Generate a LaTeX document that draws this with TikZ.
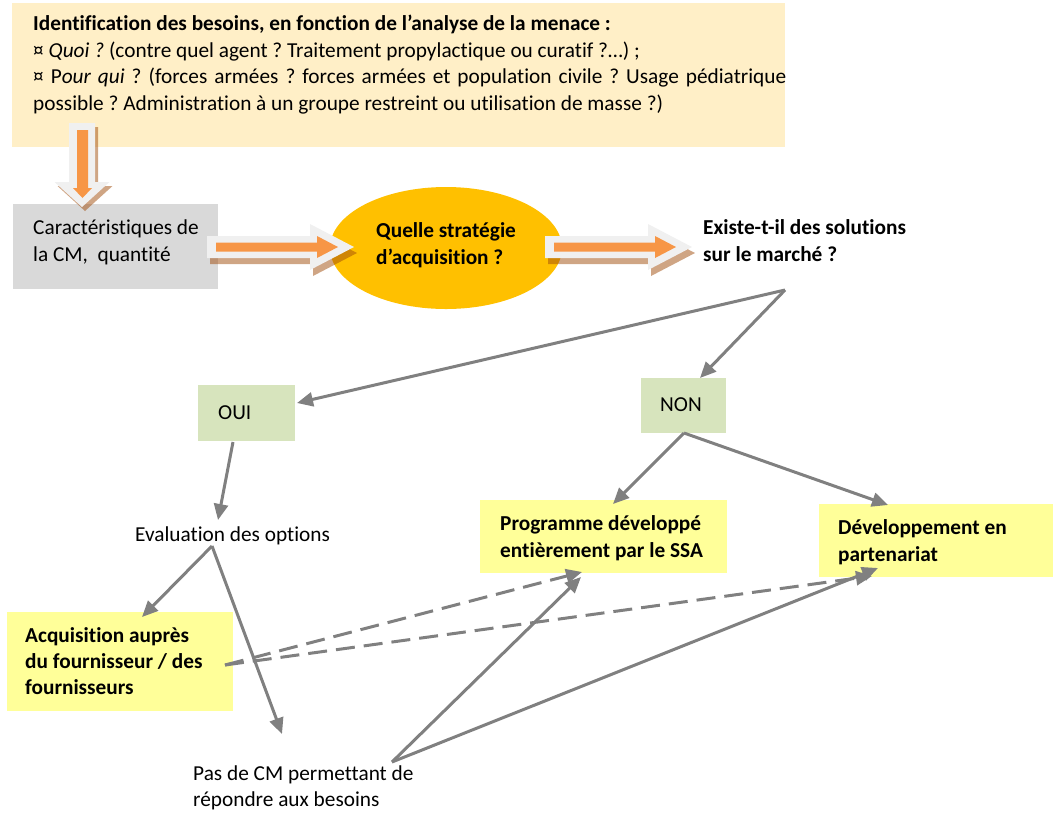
\documentclass[tikz,border=0pt]{standalone}
\usepackage{fontspec}
\setmainfont{Carlito}[Ligatures=NoCommon]
\usetikzlibrary{arrows.meta,calc,shapes.geometric}
\frenchspacing

\definecolor{needfill}{HTML}{FFEFC7}
\definecolor{cmfill}{HTML}{D9D9D9}
\definecolor{stratfill}{HTML}{FFC000}
\definecolor{answerfill}{HTML}{D7E4BD}
\definecolor{optionfill}{HTML}{FFFF99}
\definecolor{linkgray}{HTML}{808080}
\definecolor{fatorange}{HTML}{F79646}
\definecolor{fatrim}{HTML}{F0F0F0}
\definecolor{fatshadow}{HTML}{A04B0A}

% outline of a block arrow pointing along +x, tail at the origin
% #1 length, #2 shaft width, #3 head width, #4 head length
\newcommand\arrowpoly[4]{(0,-#2/2) -- (#1-#4,-#2/2) -- (#1-#4,-#3/2) -- (#1,0)
  -- (#1-#4,#3/2) -- (#1-#4,#2/2) -- (0,#2/2) -- cycle}

% text nodes are placed by the baseline of their last line
\tikzset{
  area/.style={rectangle, inner sep=0pt, outer sep=0pt, draw=none},
  label text/.style={anchor=base west, inner sep=0pt, align=left,
    font=\fontsize{21.3}{26.5}\selectfont},
  bold text/.style={label text, font=\bfseries\fontsize{21.3}{27}\selectfont},
  link/.style={draw=linkgray, line width=3pt,
    -{Triangle[length=16pt,width=14pt]}},
  dashedlink/.style={link, dash pattern=on 19pt off 9pt},
}

\begin{document}
\begin{tikzpicture}[x=1pt,y=-1pt]
\useasboundingbox (0,0) rectangle (1054,812);

% boxes
\node[area, fill=needfill, minimum width=773pt, minimum height=144pt, anchor=north west] (need) at (12,3) {};
\node[area, fill=cmfill, minimum width=205pt, minimum height=85pt, anchor=north west] (cm) at (13,204) {};
\node[ellipse, fill=stratfill, inner sep=0pt, minimum width=232pt, minimum height=122pt] (strat) at (446,248) {};
\node[area, fill=answerfill, minimum width=97pt, minimum height=56pt, anchor=north west] (oui) at (198,385) {};
\node[area, fill=answerfill, minimum width=85pt, minimum height=55pt, anchor=north west] (non) at (641,378) {};
\node[area, fill=optionfill, minimum width=247pt, minimum height=73pt, anchor=north west] (prog) at (480,500) {};
\node[area, fill=optionfill, minimum width=234pt, minimum height=73pt, anchor=north west] (dev) at (819,504) {};
\node[area, fill=optionfill, minimum width=226pt, minimum height=99pt, anchor=north west] (acq) at (7,612) {};

% texts (the wrapped third line of the needs box is justified)
\node[label text] (needtxt) at (33,110) {\textbf{Identification des besoins, en fonction de l’analyse de la menace :}\\
¤ \textit{Quoi ?} (contre quel agent ? Traitement propylactique ou curatif ?…) ;\\
\makebox[753pt][s]{¤ P\textit{our qui} ? (forces armées ? forces armées et population civile ? Usage pédiatrique}\\
possible ? Administration à un groupe restreint ou utilisation de masse ?)};
\node[label text, font=\fontsize{21.3}{27}\selectfont] (cmtxt) at (33,261) {Caractéristiques de\\la CM,~ quantité};
\node[bold text] (strattxt) at (376,264) {Quelle stratégie\\d’acquisition ?};
\node[bold text] (market) at (703,261) {Existe-t-il des solutions\\sur le marché ?};
\node[label text] (ouitxt) at (218,419) {OUI};
\node[label text] (nontxt) at (660,411) {NON};
\node[label text] (eval) at (135,541) {Evaluation des options};
\node[bold text, font=\bfseries\fontsize{21.3}{26}\selectfont] (acqtxt) at (25,694) {Acquisition auprès\\du fournisseur / des\\fournisseurs};
\node[bold text] (progtxt) at (500,557) {Programme développé\\entièrement par le SSA};
\node[bold text] (devtxt) at (838,561) {Développement en\\partenariat};
\node[label text, font=\fontsize{21.3}{26}\selectfont] (none) at (193,806) {Pas de CM permettant de\\répondre aux besoins};

% block arrows: shadow, light rim, orange core
\foreach \tx/\ty in {207/247, 545/247}{
  \begin{scope}[shift={(\tx,\ty)}]
    \fill[fatshadow, opacity=0.5, shift={(3,6)}] \arrowpoly{147}{22}{46}{44};
    \fill[fatrim] \arrowpoly{147}{22}{46}{44};
    \fill[fatorange, shift={(9,0)}] \arrowpoly{122}{9}{22}{21};
  \end{scope}
}
\begin{scope}[shift={(82,123)}]
  \fill[fatshadow, opacity=0.5, shift={(3,4)}, rotate=-90] \arrowpoly{84}{26}{55}{25};
  \fill[fatrim, rotate=-90] \arrowpoly{84}{26}{55}{25};
  \fill[fatorange, shift={(0.5,7)}, rotate=-90] \arrowpoly{68}{11}{19}{10};
\end{scope}

% connector end points
\coordinate (fork) at (785,290);
\coordinate (ouiin) at (297,403);
\coordinate (nonin) at (700,378);
\coordinate (ouiout) at (233,442);
\coordinate (evalin) at (218,520);
\coordinate (evalout) at (212,546);
\coordinate (acqin) at (142,617);
\coordinate (nonein) at (282,734);
\coordinate (nonout) at (684,433);
\coordinate (progin) at (613,504);
\coordinate (devin) at (888,505);
\coordinate (noneout) at (392,762);
\coordinate (progbelow) at (581,577);
\coordinate (devbelow) at (878,568);
\coordinate (acqout) at (225,665);
\coordinate (progdash) at (582,572);
\coordinate (devdash) at (872,576);

% connectors
\draw[link] (fork) -- (ouiin);
\draw[link] (fork) -- (nonin);
\draw[link] (ouiout) -- (evalin);
\draw[link] (evalout) -- (acqin);
\draw[link] (evalout) -- (nonein);
\draw[link] (nonout) -- (progin);
\draw[link] (nonout) -- (devin);
\draw[link] (noneout) -- (progbelow);
\draw[link] (noneout) -- (devbelow);
\draw[dashedlink] (acqout) -- (progdash);
\draw[dashedlink] (acqout) -- (devdash);
\end{tikzpicture}
\end{document}
